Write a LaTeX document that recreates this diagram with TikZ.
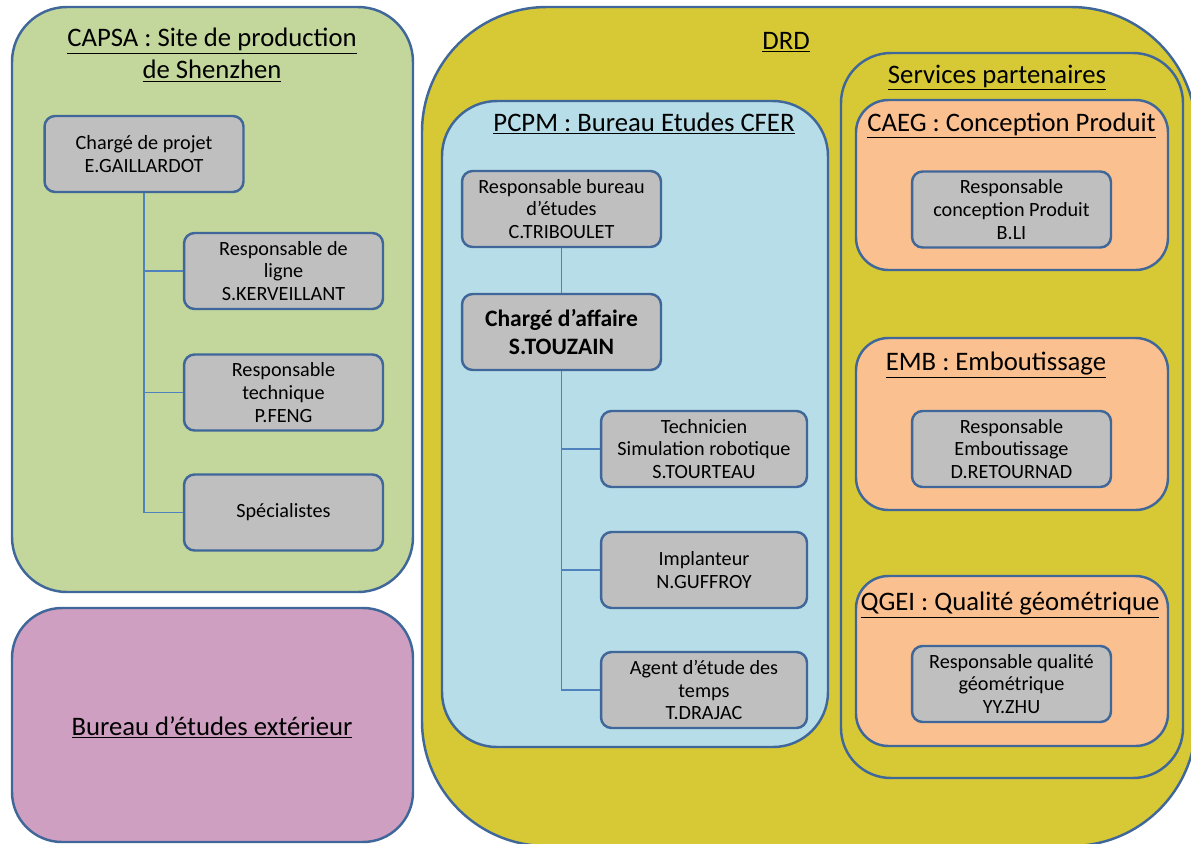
\documentclass[tikz,border=0pt]{standalone}
\usepackage{fontspec}
\setmainfont{Carlito}
\usetikzlibrary{positioning}
\definecolor{edgeblue}{HTML}{40679A}
\definecolor{linkblue}{HTML}{4F81BD}
\definecolor{capsagreen}{HTML}{C3D69B}
\definecolor{extpink}{HTML}{CF9FC1}
\definecolor{drdyellow}{HTML}{D6C935}
\definecolor{pcpmblue}{HTML}{B7DDE8}
\definecolor{partorange}{HTML}{FAC090}
\definecolor{postgray}{HTML}{BFBFBF}
\tikzset{
    org chart/.style = {x=0.02cm, y=-0.02cm},
    zone/.style      = {draw=edgeblue, line width=1.4pt},
    zonetitle/.style = {font=\fontsize{15.2}{18.2}\selectfont, align=center,
                        anchor=base, inner sep=0pt},
    post/.style      = {draw=edgeblue, line width=1.4pt, fill=postgray,
                        rounded corners=6pt, align=center,
                        minimum width=3.98cm, minimum height=1.52cm,
                        inner sep=1pt,
                        font=\fontsize{11.5}{13}\selectfont},
    widepost/.style  = {post, minimum width=4.12cm},
    keypost/.style   = {post, font=\fontsize{13.4}{16}\selectfont\bfseries},
    link/.style      = {draw=linkblue, line width=1pt}
}

\begin{document}
\begin{tikzpicture}[org chart]
\clip (0,0) rectangle (1191,843);

% ================= CAPSA (left, top) =================
\draw[zone, fill=capsagreen, rounded corners=1.1cm] (12,7) rectangle (413,592);
\node[zonetitle, anchor=center] (capsaT) at (212,55)
    {\underline{CAPSA : Site de production}\\\underline{de Shenzhen}};

\node[post] (proj) at (144,154) {Chargé de projet\\E.GAILLARDOT};
\node[post] (ligne) at (283.5,271) {Responsable de\\ligne\\S.KERVEILLANT};
\node[post] (techn) at (283.5,392.5) {Responsable\\technique\\P.FENG};
\node[post] (spec) at (283.5,512.5) {Spécialistes};

\draw[link] (proj.south) |- (ligne.west);
\draw[link] (proj.south) |- (techn.west);
\draw[link] (proj.south) |- (spec.west);

% ================= External office (left, bottom) =================
\draw[zone, fill=extpink, rounded corners=1.0cm] (12,608) rectangle (413,842);
\node[zonetitle] (extT) at (212,735) {\underline{Bureau d’études extérieur}};

% ================= DRD =================
\draw[zone, fill=drdyellow, rounded corners=2.5cm] (422,7) rectangle (1196,846);
\node[zonetitle] (drdT) at (786,49) {\underline{DRD}};

% PCPM design office
\draw[zone, fill=pcpmblue, rounded corners=1.1cm] (442,101) rectangle (828,747);
\node[zonetitle] (pcpmT) at (644,131) {\underline{PCPM : Bureau Etudes CFER}};

\node[post] (trib) at (561.5,209) {Responsable bureau\\d’études\\C.TRIBOULET};
\node[keypost] (aff) at (561.5,332) {Chargé d’affaire\\S.TOUZAIN};
\node[widepost] (tourt) at (704,449) {Technicien\\Simulation robotique\\S.TOURTEAU};
\node[widepost] (guff) at (704,570) {Implanteur\\N.GUFFROY};
\node[widepost] (drajac) at (704,690) {Agent d’étude des\\temps\\T.DRAJAC};

\draw[link] (trib.south) -- (aff.north);
\draw[link] (aff.south) |- (tourt.west);
\draw[link] (aff.south) |- (guff.west);
\draw[link] (aff.south) |- (drajac.west);

% Partner services
\draw[zone, fill=drdyellow, rounded corners=1.0cm] (841,53) rectangle (1183,778);
\node[zonetitle] (partT) at (997,83) {\underline{Services partenaires}};

\draw[zone, fill=partorange, rounded corners=0.65cm] (856,100) rectangle (1168,270);
\node[zonetitle] (caegT) at (1011.5,131) {\underline{CAEG : Conception Produit}};
\node[post] (li) at (1011.5,209.5) {Responsable\\conception Produit\\B.LI};

\draw[zone, fill=partorange, rounded corners=0.65cm] (856,338) rectangle (1168,510);
\node[zonetitle] (embT) at (996,370) {\underline{EMB : Emboutissage}};
\node[post] (ret) at (1011.5,449) {Responsable\\Emboutissage\\D.RETOURNAD};

\draw[zone, fill=partorange, rounded corners=0.65cm] (856,576) rectangle (1168,746);
\node[zonetitle] (qgeiT) at (1010,610) {\underline{QGEI : Qualité géométrique}};
\node[post] (zhu) at (1011.5,684) {Responsable qualité\\géométrique\\YY.ZHU};

\end{tikzpicture}
\end{document}
